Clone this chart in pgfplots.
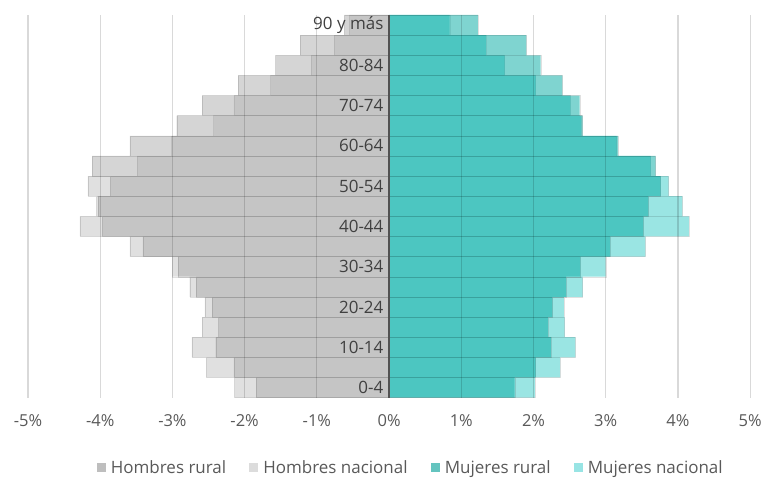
\documentclass[border=0pt]{standalone}
\usepackage{fontspec}
\setmainfont{Open Sans}
\usepackage{pgfplots}
\usepackage{pgfplotstable}
\pgfplotsset{compat=1.18}
\definecolor{hnac}{RGB}{224,224,224}
\definecolor{hrur}{RGB}{168,168,168}
\definecolor{mnac}{RGB}{154,229,227}
\definecolor{mrur}{RGB}{0,169,161}
\definecolor{hrurL}{RGB}{190,190,190}
\definecolor{hnacL}{RGB}{220,220,220}
\definecolor{mrurL}{RGB}{100,196,191}
\definecolor{mnacL}{RGB}{152,228,228}
\definecolor{txt}{RGB}{89,89,89}
\definecolor{cat}{RGB}{64,64,64}

\pgfplotstableread{
age hr hn mr mn
0 -1.84 -2.14 1.74 2.02
1 -2.15 -2.53 2.03 2.37
2 -2.40 -2.73 2.24 2.58
3 -2.36 -2.59 2.20 2.43
4 -2.45 -2.55 2.26 2.42
5 -2.67 -2.76 2.45 2.68
6 -2.92 -3.00 2.65 3.00
7 -3.41 -3.59 3.06 3.55
8 -3.97 -4.28 3.52 4.15
9 -4.03 -4.05 3.59 4.06
10 -3.86 -4.17 3.76 3.87
11 -4.11 -3.49 3.69 3.62
12 -3.59 -3.01 3.17 3.15
13 -2.94 -2.43 2.68 2.66
14 -2.59 -2.15 2.64 2.51
15 -2.09 -1.64 2.40 2.03
16 -1.57 -1.08 2.10 1.60
17 -1.23 -0.76 1.90 1.34
18 -0.62 -0.55 1.23 0.84
}\data

\begin{document}
\begin{tikzpicture}
\begin{axis}[
  at={(28pt,81pt)}, anchor=south west,
  scale only axis, width=723pt, height=383pt,
  xmin=-5, xmax=5, ymin=-0.5, ymax=18.5,
  axis line style={draw=none},
  tick style={draw=none},
  xtick={-5,-4,-3,-2,-1,0,1,2,3,4,5},
  xticklabels={-5\%,-4\%,-3\%,-2\%,-1\%,0\%,1\%,2\%,3\%,4\%,5\%},
  ytick={0,2,4,6,8,10,12,14,16,18},
  yticklabels={0-4,10-14,20-24,30-34,40-44,50-54,60-64,70-74,80-84,90 y más},
  xmajorgrids,
  grid style={black, opacity=0.15, line width=1.2pt},
  axis on top,
  extra x ticks={0}, extra x tick labels={},
  extra x tick style={grid style={black!68, opacity=1, line width=1.6pt}},
  xticklabel style={font=\fontsize{16.5}{19}\selectfont, text=txt, anchor=center, yshift=-23pt},
  yticklabel style={font=\fontsize{17}{20}\selectfont, text=cat, inner sep=0pt, anchor=east, xshift=356pt},
  legend columns=4,
  legend image code/.code={\fill[#1, draw=none] (0pt,-4.5pt) rectangle (9pt,4.5pt); \path (12pt,0pt);},
  legend style={draw=none, fill=none, at={(0.530,-0.183)}, anchor=center,
    font=\fontsize{17}{20}\selectfont, text=txt,
    /tikz/every even column/.append style={column sep=21pt}},
]
\addplot[xbar, bar width=1, bar shift=0pt, fill=hnac, draw=black, draw opacity=0.12, forget plot] table[x=hn, y=age] {\data};
\addplot[xbar, bar width=1, bar shift=0pt, fill=hrur, fill opacity=0.48, draw=black, draw opacity=0.12, forget plot] table[x=hr, y=age] {\data};
\addplot[xbar, bar width=1, bar shift=0pt, fill=mnac, draw=black, draw opacity=0.12, forget plot] table[x=mn, y=age] {\data};
\addplot[xbar, bar width=1, bar shift=0pt, fill=mrur, fill opacity=0.5, draw=black, draw opacity=0.12, forget plot] table[x=mr, y=age] {\data};
\addlegendimage{fill=hrurL}
\addlegendentry{Hombres rural}
\addlegendimage{fill=hnacL}
\addlegendentry{Hombres nacional}
\addlegendimage{fill=mrurL}
\addlegendentry{Mujeres rural}
\addlegendimage{fill=mnacL}
\addlegendentry{Mujeres nacional}
\end{axis}
\path (0,0) rectangle (765pt,479pt);
\end{tikzpicture}
\end{document}
